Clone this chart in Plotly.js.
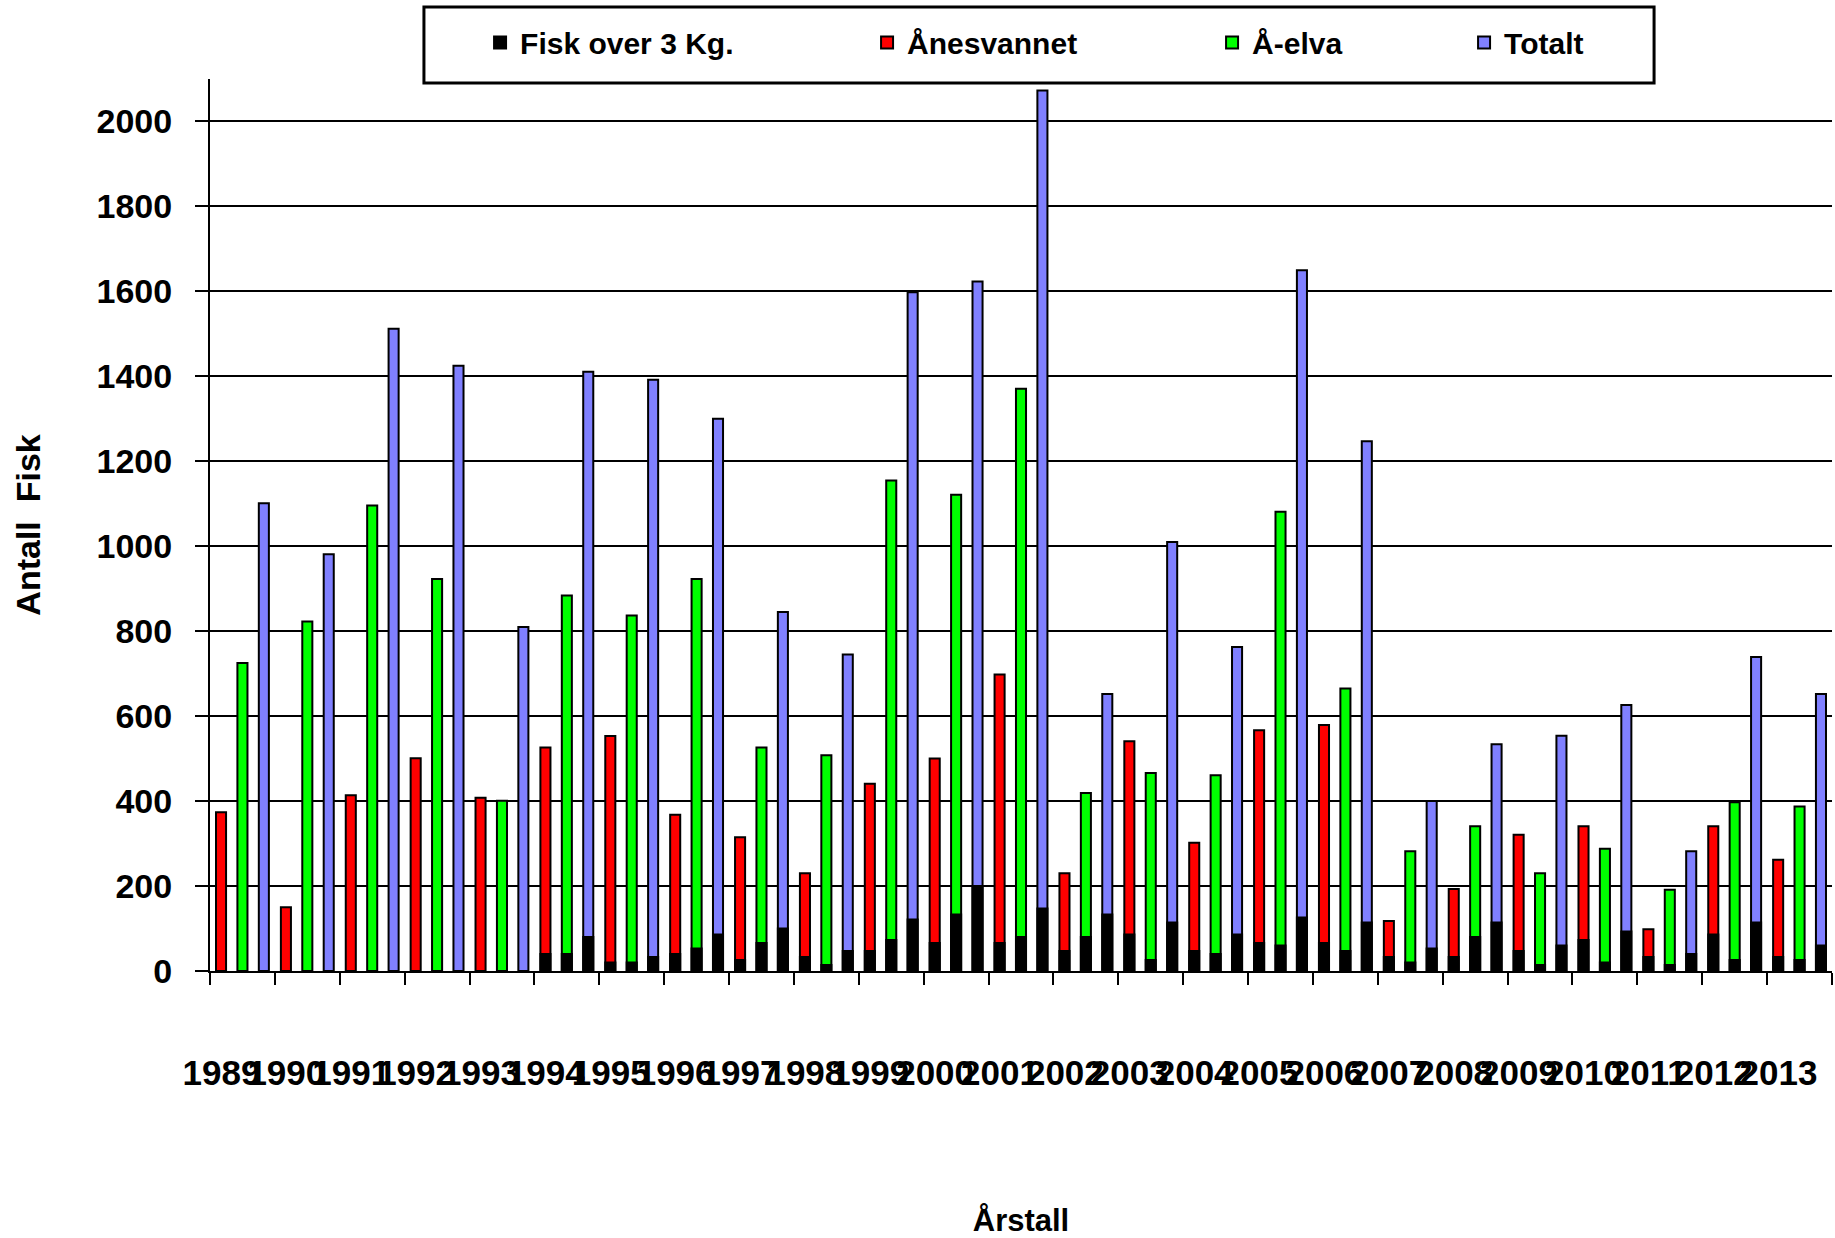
<!DOCTYPE html>
<html>
<head>
<meta charset="utf-8">
<script src="https://cdn.plot.ly/plotly-3.0.1.min.js"></script>
<style>html,body{margin:0;padding:0;background:#fff;}</style>
</head>
<body>
<div id="chart" style="width:1835px;height:1238px;"></div>
<script>
// ---- data ----
const years = ['1989','1990','1991','1992','1993','1994','1995','1996','1997','1998','1999','2000','2001','2002','2003','2004','2005','2006','2007','2008','2009','2010','2011','2012','2013'];
const anesvannet = [374,150,414,501,408,526,553,368,315,230,441,500,698,230,541,302,567,579,118,193,321,341,98,341,262];
const aelva      = [725,823,1096,923,401,884,837,923,526,508,1155,1121,1371,419,466,461,1081,665,282,341,230,288,191,397,387];
const totalt     = [1101,981,1512,1425,810,1411,1392,1300,845,745,1598,1623,2073,652,1010,763,1650,1247,400,534,554,626,282,739,652];
const anesOver3  = [null,null,null,null,null,40,20,40,26,33,47,66,66,47,86,47,66,66,33,33,47,73,33,86,33];
const aelvaOver3 = [null,null,null,null,null,40,20,53,66,14,73,133,80,80,26,40,60,47,20,80,14,20,14,26,26];
const totOver3   = [null,null,null,null,null,80,33,86,100,47,121,200,147,133,114,86,126,114,53,114,60,93,40,114,60];
const seriesNames = ['Fisk over 3 Kg.', 'Ånesvannet', 'Å-elva', 'Totalt'];
const yTickVals = [0,200,400,600,800,1000,1200,1400,1600,1800,2000];
const xTitle = 'Årstall';
const yTitle = 'Antall\u00a0 Fisk';

// ---- styling ----
const FONT = 'Liberation Sans, Arial, Helvetica, sans-serif';
const colors = {black:'#000000', red:'#FF0000', green:'#00FF00', blue:'#8080FF'};
const W = 0.155;
const offs = {red:-0.33 - W/2, green:0 - W/2, blue:0.33 - W/2};
const line = {color:'#000000', width:2};

function bar(y, name, color, off, extra) {
  return Object.assign({
    type:'bar', x: years, y: y, name: name,
    width: W, offset: off,
    marker:{color: color, line: line},
    hoverinfo:'x+y+name'
  }, extra || {});
}

const traces = [
  bar(anesvannet, seriesNames[1], colors.red,   offs.red,   {legendrank:2, legendwidth:300}),
  bar(aelva,      seriesNames[2], colors.green, offs.green, {legendrank:3, legendwidth:207}),
  bar(totalt,     seriesNames[3], colors.blue,  offs.blue,  {legendrank:4, legendwidth:120}),
  bar(anesOver3,  seriesNames[0], colors.black, offs.red,   {legendrank:1, legendwidth:342, legendgroup:'o3'}),
  bar(aelvaOver3, seriesNames[0], colors.black, offs.green, {showlegend:false, legendgroup:'o3'}),
  bar(totOver3,   seriesNames[0], colors.black, offs.blue,  {showlegend:false, legendgroup:'o3'})
];

const layout = {
  width:1835, height:1238,
  margin:{l:210, r:3, t:79, b:267, pad:0},
  paper_bgcolor:'#ffffff', plot_bgcolor:'#ffffff',
  barmode:'overlay',
  font:{family:FONT, color:'#000', weight:'bold'},
  xaxis:{
    type:'category', range:[-0.5, 24.5],
    tickson:'boundaries', ticks:'outside', ticklen:12, tickwidth:2, tickcolor:'#000',
    showline:true, linecolor:'#000', linewidth:2, showgrid:false, zeroline:false,
    tickfont:{family:FONT, size:35, weight:'bold', color:'#000'},
    tickangle:0, ticklabelshift:-21, ticklabelstandoff:70,
    automargin:false,
    title:{text:xTitle, font:{family:FONT, size:31, weight:'bold', color:'#000'}, standoff:122}
  },
  yaxis:{
    range:[0, 2100], tickvals:yTickVals,
    ticks:'outside', ticklen:13, tickwidth:2, tickcolor:'#000',
    showline:true, linecolor:'#000', linewidth:2,
    showgrid:true, gridcolor:'#000', gridwidth:2, zeroline:false,
    tickfont:{family:FONT, size:34, weight:'bold', color:'#000'},
    ticklabelstandoff:16, automargin:false,
    title:{text:yTitle, font:{family:FONT, size:34, weight:'bold', color:'#000'}, standoff:46}
  },
  showlegend:true,
  legend:{
    orientation:'h', x:0.1665, xanchor:'left', y:1.070, yanchor:'top',
    font:{family:FONT, size:30, weight:'bold', color:'#000'},
    bgcolor:'rgba(0,0,0,0)', borderwidth:0, traceorder:'normal', itemclick:false
  },
  shapes:[{
    type:'rect', xref:'paper', yref:'paper',
    x0:0.1319, x1:0.8903, y0:0.9955, y1:1.0807,
    line:{color:'#000', width:3}, fillcolor:'rgba(0,0,0,0)', layer:'above'
  }]
};

Plotly.newPlot('chart', traces, layout, {staticPlot:true, displayModeBar:false});
</script>
</body>
</html>
